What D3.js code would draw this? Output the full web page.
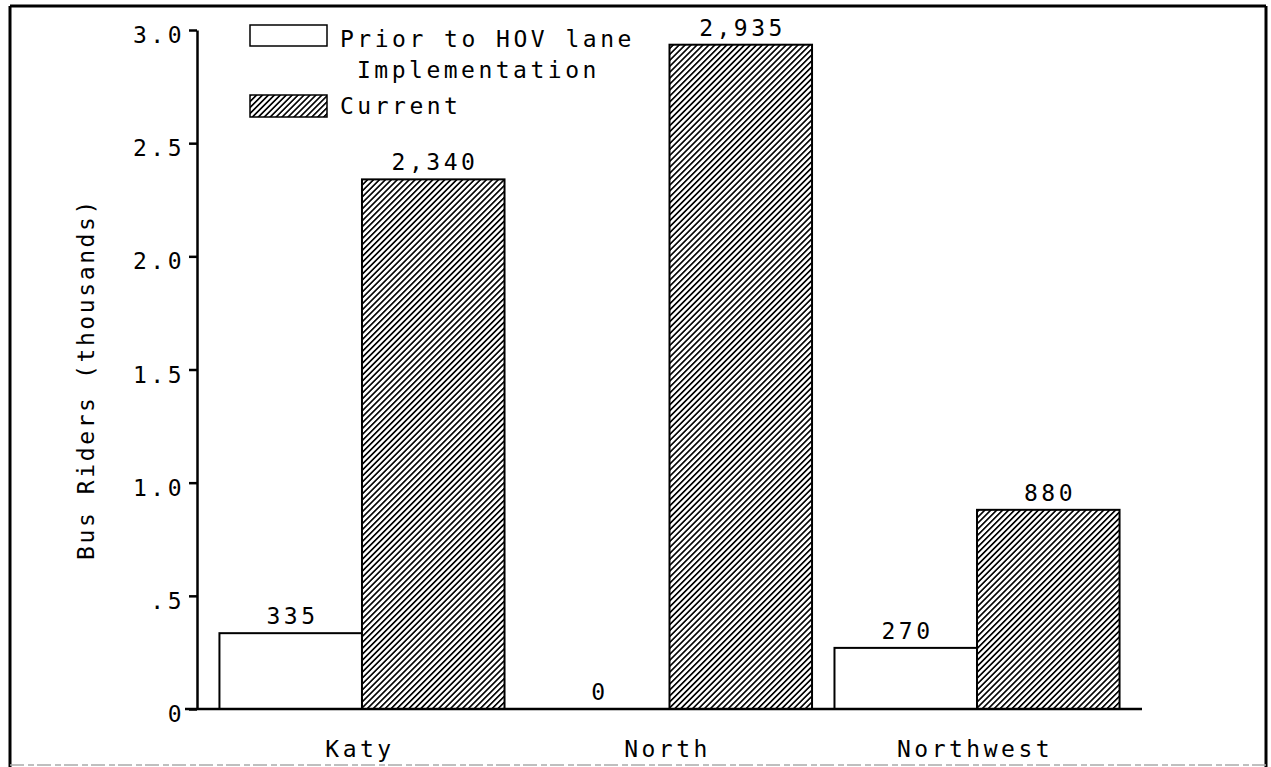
<!DOCTYPE html>
<html>
<head>
<meta charset="utf-8">
<script src="https://cdn.jsdelivr.net/npm/d3@7"></script>
<style>
  html, body { margin: 0; padding: 0; background: #fff; }
  svg { display: block; }
  text { font-family: "DejaVu Sans Mono", "Liberation Mono", monospace; font-size: 23px; letter-spacing: 3.5px; fill: #000; }
</style>
</head>
<body>
<svg id="chart" width="1271" height="767"></svg>
<script>
// ---- data ----
const categories = ["Katy", "North", "Northwest"];
const series = ["Prior to HOV lane Implementation", "Current"];
const priorValues = [335, 0, 270];
const currentValues = [2340, 2935, 880];
const yTicks = [0, 0.5, 1.0, 1.5, 2.0, 2.5, 3.0];
const yTickLabels = ["0", ".5", "1.0", "1.5", "2.0", "2.5", "3.0"];
const yTitle = "Bus Riders (thousands)";

const svg = d3.select("#chart");

// frame
svg.append("line").attr("x1", 10).attr("y1", 6).attr("x2", 1266).attr("y2", 6).attr("stroke", "#000").attr("stroke-width", 3);
svg.append("line").attr("x1", 10).attr("y1", 6).attr("x2", 10).attr("y2", 767).attr("stroke", "#000").attr("stroke-width", 3);
svg.append("line").attr("x1", 1266).attr("y1", 6).attr("x2", 1266).attr("y2", 767).attr("stroke", "#000").attr("stroke-width", 3);
svg.append("line").attr("x1", 10).attr("y1", 765).attr("x2", 1266).attr("y2", 765).attr("stroke", "#aaa").attr("stroke-width", 1.5).attr("stroke-dasharray", "14 4 6 3");

// hatch pattern
const defs = svg.append("defs");
const pat = defs.append("pattern").attr("id", "hatch").attr("patternUnits", "userSpaceOnUse")
  .attr("width", 4.2).attr("height", 4.2).attr("patternTransform", "rotate(45)");
pat.append("rect").attr("width", 4.2).attr("height", 4.2).attr("fill", "#fff");
pat.append("line").attr("x1", 0).attr("y1", 0).attr("x2", 0).attr("y2", 4.2).attr("stroke", "#000").attr("stroke-width", 3.3);

// scales
const x0 = d3.scaleBand().domain(categories).range([197, 1142]).paddingInner(0.073).paddingOuter(0.073);
const x1 = d3.scaleBand().domain(series).range([0, x0.bandwidth()]);
const y = d3.scaleLinear().domain([0, 3]).range([709, 30]);

const rows = categories.map((c, i) => ({ cat: c, vals: [
  { s: series[0], v: priorValues[i] },
  { s: series[1], v: currentValues[i] }
]}));

// bars
const g = svg.append("g");
const groups = g.selectAll("g.grp").data(rows).join("g").attr("class", "grp")
  .attr("transform", d => `translate(${x0(d.cat)},0)`);
groups.selectAll("rect").data(d => d.vals).join("rect")
  .attr("x", d => x1(d.s))
  .attr("y", d => y(d.v / 1000))
  .attr("width", x1.bandwidth())
  .attr("height", d => y(0) - y(d.v / 1000))
  .attr("fill", d => d.s === series[0] ? "#fff" : "url(#hatch)")
  .attr("stroke", "#000").attr("stroke-width", 2);
groups.selectAll("text.val").data(d => d.vals).join("text").attr("class", "val")
  .attr("x", d => x1(d.s) + x1.bandwidth() / 2 + 1.75)
  .attr("y", d => y(d.v / 1000) - 9)
  .attr("text-anchor", "middle")
  .text(d => d3.format(",")(d.v));

// y axis
const yAxis = d3.axisLeft(y).tickValues(yTicks).tickSize(8).tickSizeOuter(0).tickPadding(4)
  .tickFormat((d, i) => yTickLabels[i]);
const ya = svg.append("g").attr("transform", "translate(197,0)").call(yAxis);
ya.selectAll("path, line").attr("stroke", "#000").attr("stroke-width", 2.5);
ya.selectAll("text").attr("dy", "0.55em").style("font-size", "23px").style("font-family", '"DejaVu Sans Mono", monospace').attr("fill", "#000");

// x axis
svg.append("line").attr("x1", 185).attr("x2", x0.range()[1]).attr("y1", y(0)).attr("y2", y(0))
  .attr("stroke", "#000").attr("stroke-width", 2.5);
const xAxis = d3.axisBottom(x0).tickSize(0).tickPadding(0);
const xa = svg.append("g").attr("transform", `translate(0,${y(0)})`).call(xAxis);
xa.select(".domain").remove();
xa.selectAll("text").attr("y", 48).attr("dy", 0).attr("dx", -2)
  .style("font-size", "23px").style("font-family", '"DejaVu Sans Mono", monospace').attr("fill", "#000");

// y title
svg.append("text").attr("transform", "translate(94,379) rotate(-90)")
  .attr("text-anchor", "middle").style("letter-spacing", "2.6px").text(yTitle);

// legend
const leg = svg.append("g");
leg.append("rect").attr("x", 250).attr("y", 25).attr("width", 77).attr("height", 21)
  .attr("fill", "#fff").attr("stroke", "#000").attr("stroke-width", 1.5);
leg.append("text").attr("x", 340).attr("y", 47).text("Prior to HOV lane");
leg.append("text").attr("x", 357).attr("y", 78).text("Implementation");
leg.append("rect").attr("x", 250).attr("y", 95).attr("width", 77).attr("height", 22)
  .attr("fill", "url(#hatch)").attr("stroke", "#000").attr("stroke-width", 1.5);
leg.append("text").attr("x", 340).attr("y", 114).text(series[1]);
</script>
</body>
</html>
